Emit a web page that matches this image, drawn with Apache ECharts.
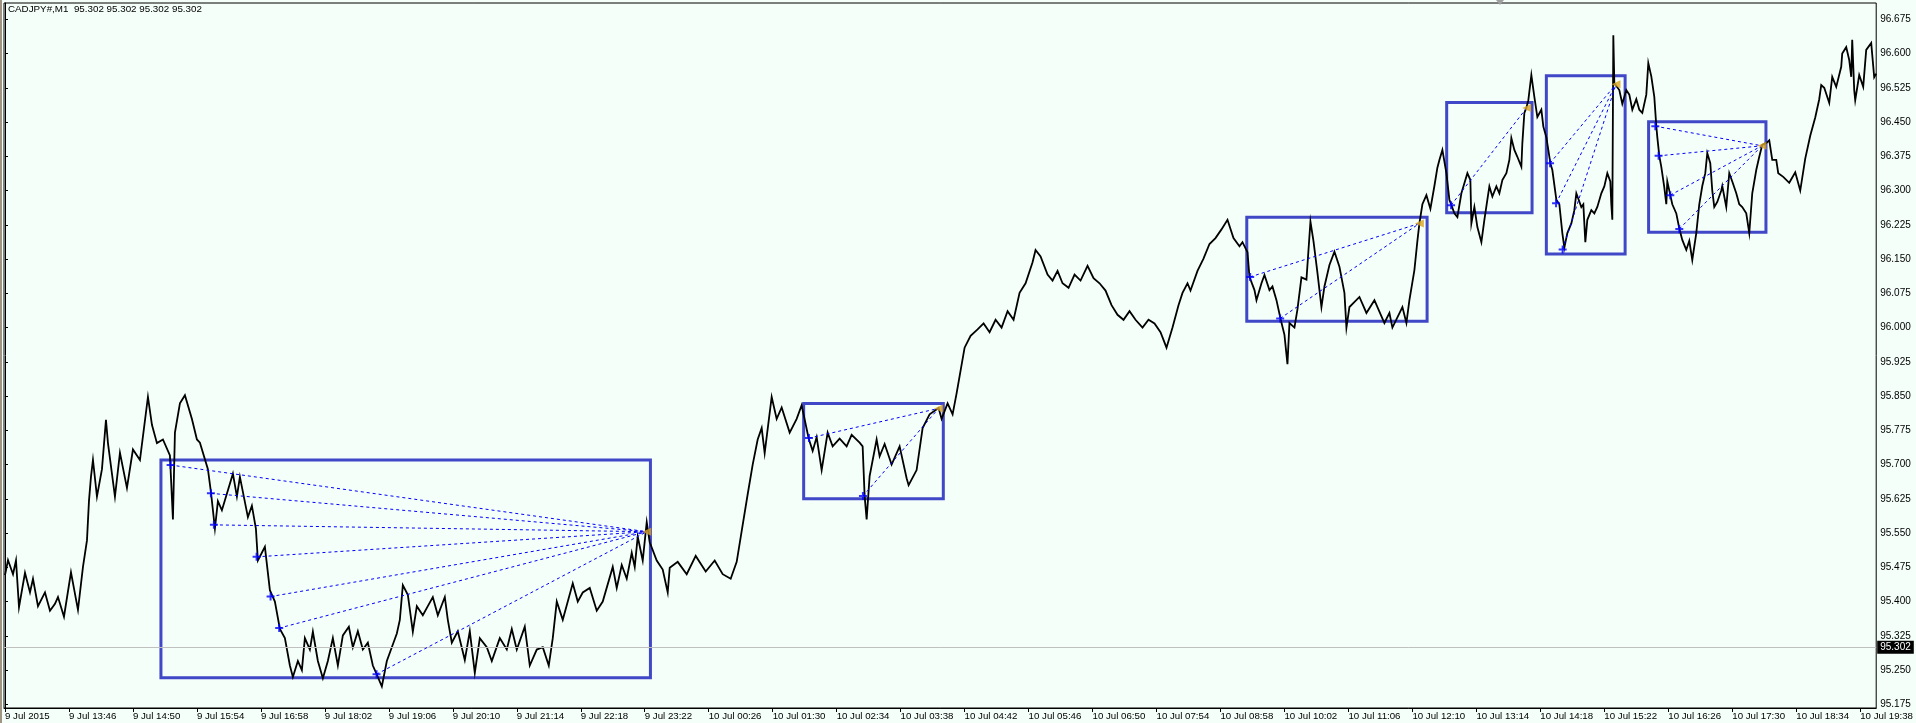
<!DOCTYPE html>
<html><head><meta charset="utf-8">
<script src="https://cdn.jsdelivr.net/npm/echarts@6/dist/echarts.min.js"></script>
<style>html,body{margin:0;padding:0;background:#F5FFFA;overflow:hidden}#c{width:1916px;height:723px}</style>
</head><body><div id="c"></div>
<script>
// ---- data (minute offset from 9 Jul 2015 12:42, price) ----
const symbolTitle = 'CADJPY#,M1  95.302 95.302 95.302 95.302';
const priceTrace = [
[0,95.458],[3,95.491],[8,95.46],[11,95.49],[14,95.388],[20,95.463],[25,95.42],[28,95.45],[33,95.39],[40,95.42],[45,95.38],[50,95.395],[53,95.41],[59,95.367],[66,95.464],[73,95.382],[78,95.476],[82,95.534],[84,95.62],[86,95.673],[88,95.71],[92,95.63],[97,95.69],[101,95.798],[103,95.747],[110,95.63],[115,95.726],[122,95.649],[128,95.733],[135,95.71],[143,95.848],[147,95.787],[152,95.747],[158,95.755],[165,95.72],[168,95.58],[170,95.77],[175,95.834],[180,95.852],[187,95.80],[192,95.755],
[195,95.748],[203,95.69],[206,95.64],[210,95.56],[213,95.62],[217,95.60],[228,95.68],[232,95.63],[235,95.673],[243,95.585],[247,95.61],[251,95.56],[253,95.49],[260,95.52],[265,95.425],[270,95.40],[275,95.34],[280,95.32],[285,95.26],[288,95.235],[293,95.27],[297,95.25],[300,95.32],[305,95.295],[308,95.334],[313,95.27],[318,95.232],[323,95.27],[328,95.32],[333,95.26],[338,95.326],[344,95.345],[348,95.30],[353,95.335],[358,95.295],[363,95.31],[368,95.26],[372,95.24],[377,95.214],[382,95.27],[387,95.30],[392,95.33],[395,95.36],[398,95.436],[403,95.415],[408,95.334],[412,95.39],[418,95.37],[423,95.39],[428,95.41],[433,95.37],[440,95.41],[443,95.36],[447,95.31],[453,95.335],[460,95.272],[465,95.335],[470,95.244],[475,95.32],[482,95.30],[487,95.27],[495,95.32],[502,95.295],[507,95.34],[512,95.295],[520,95.345],[525,95.26],[532,95.295],[538,95.30],[544,95.26],[548,95.32],[552,95.40],[558,95.36],[568,95.44],[573,95.40],[578,95.42],[585,95.43],[592,95.38],[598,95.40],[608,95.476],[612,95.43],[617,95.48],[622,95.45],[627,95.507],[630,95.476],[633,95.542],[638,95.49],[642,95.574],[645,95.53],[652,95.49],[658,95.47],[663,95.42],
[665,95.474],[673,95.487],[682,95.46],[691,95.50],[701,95.466],[710,95.49],[718,95.46],[726,95.45],[732,95.487],[738,95.568],[743,95.635],[748,95.70],[753,95.755],
[757,95.78],[760,95.725],[767,95.848],[772,95.80],[777,95.825],[785,95.77],[792,95.80],[797,95.83],[804,95.757],[808,95.73],[812,95.76],[817,95.688],[823,95.77],[828,95.74],[835,95.757],[842,95.74],[847,95.765],[855,95.748],[858,95.74],[860,95.631],[862,95.58],[865,95.675],[872,95.755],[875,95.718],[880,95.745],[887,95.70],[895,95.74],[902,95.67],[904,95.655],[912,95.688],[918,95.78],[925,95.81],[934,95.824],[937,95.80],[943,95.834],[948,95.81],[952,95.856],
[960,95.956],[966,95.982],[973,95.996],[979,96.009],[985,95.99],[991,96.017],[997,96.0],[1003,96.036],[1009,96.017],[1015,96.076],[1021,96.097],[1028,96.143],[1031,96.17],[1036,96.156],[1043,96.116],[1048,96.103],[1053,96.124],[1058,96.097],[1064,96.087],[1070,96.116],[1076,96.103],[1083,96.135],[1089,96.108],[1095,96.097],[1101,96.081],[1107,96.049],[1113,96.028],[1119,96.017],[1125,96.036],[1131,96.017],[1138,96.0],[1144,96.017],[1150,96.009],[1156,95.99],[1162,95.956],[1168,96.0],[1174,96.049],[1178,96.076],[1183,96.097],[1186,96.081],[1193,96.124],[1199,96.151],[1205,96.183],[1211,96.196],[1217,96.215],[1223,96.236],[1229,96.196],[1235,96.178],
[1238,96.187],[1243,96.165],[1245,96.111],[1250,96.082],[1252,96.06],[1257,96.097],[1260,96.115],[1265,96.082],[1268,96.09],[1272,96.06],[1276,96.02],[1280,95.984],[1283,95.92],[1285,96.01],[1290,96.0],[1293,96.04],[1297,96.11],[1302,96.105],[1306,96.232],[1309,96.19],[1313,96.12],[1317,96.045],[1320,96.09],[1325,96.137],[1330,96.166],[1335,96.133],[1340,96.076],[1342,96.0],[1345,96.045],[1355,96.067],[1362,96.032],[1370,96.06],[1380,96.01],[1385,96.032],[1388,96.0],[1398,96.045],[1402,96.01],[1405,96.06],[1410,96.126],[1413,96.19],[1415,96.228],[1418,96.27],[1422,96.29],[1426,96.26],[1430,96.31],[1433,96.35],
[1435,96.367],[1438,96.389],[1442,96.338],[1445,96.28],[1447,96.268],[1450,96.25],[1453,96.242],[1457,96.294],[1460,96.316],[1463,96.338],[1466,96.323],[1467,96.228],[1470,96.264],[1473,96.22],[1477,96.187],[1480,96.236],[1483,96.28],[1485,96.309],[1488,96.287],[1492,96.309],[1495,96.294],[1498,96.323],[1502,96.338],[1505,96.367],[1507,96.415],[1510,96.389],[1513,96.374],[1517,96.352],[1518,96.404],[1520,96.47],[1522,96.481],[1524,96.498],[1527,96.553],[1530,96.505],[1533,96.461],[1537,96.477],[1539,96.44],[1542,96.417],[1546,96.36],[1548,96.345],[1552,96.28],[1555,96.27],[1558,96.207],[1560,96.175],[1563,96.207],[1567,96.228],[1570,96.257],[1572,96.294],[1574,96.29],[1577,96.264],[1579,96.27],[1581,96.187],[1583,96.236],[1587,96.257],[1590,96.25],[1593,96.264],[1597,96.294],[1600,96.309],[1603,96.338],[1606,96.32],[1607,96.27],[1608,96.236],[1609,96.64],[1610,96.535],[1612,96.535],[1615,96.52],[1618,96.49],[1622,96.52],[1625,96.51],[1628,96.477],[1632,96.50],[1635,96.477],[1638,96.47],[1642,96.51],[1644,96.579],[1647,96.55],[1650,96.505],[1652,96.441],[1653,96.417],[1655,96.376],[1657,96.352],[1660,96.307],[1662,96.27],[1663,96.32],[1666,96.29],[1668,96.27],[1672,96.25],[1675,96.217],[1678,96.192],[1682,96.17],[1685,96.19],[1688,96.148],[1692,96.207],[1695,96.27],[1698,96.31],[1701,96.338],[1703,96.382],[1706,96.36],[1708,96.30],[1710,96.264],[1713,96.275],[1717,96.30],[1718,96.31],[1722,96.264],[1725,96.338],[1728,96.32],[1732,96.294],[1735,96.27],[1738,96.264],[1742,96.25],[1745,96.207],[1748,96.294],[1752,96.345],[1755,96.374],[1758,96.40],[1762,96.404],[1765,96.41],[1768,96.367],[1772,96.367],[1774,96.338],
[1779,96.33],[1785,96.317],[1791,96.34],[1796,96.30],[1801,96.37],[1806,96.42],[1811,96.46],[1815,96.50],[1817,96.531],[1820,96.525],[1825,96.492],[1828,96.549],[1832,96.527],[1837,96.571],[1838,96.6],[1842,96.614],[1845,96.586],[1847,96.549],[1848,96.63],[1850,96.52],[1851,96.498],[1855,96.553],[1859,96.527],[1862,96.608],[1867,96.623],[1870,96.548],[1872,96.556]
];
const timeTickMinutes = [0,64,128,192,256,320,384,448,512,576,640,704,768,832,896,960,1024,1088,1152,1216,1280,1344,1408,1472,1536,1600,1664,1728,1792,1856];
const timeTickLabels = ['9 Jul 2015','9 Jul 13:46','9 Jul 14:50','9 Jul 15:54','9 Jul 16:58','9 Jul 18:02','9 Jul 19:06','9 Jul 20:10','9 Jul 21:14','9 Jul 22:18','9 Jul 23:22','10 Jul 00:26','10 Jul 01:30','10 Jul 02:34','10 Jul 03:38','10 Jul 04:42','10 Jul 05:46','10 Jul 06:50','10 Jul 07:54','10 Jul 08:58','10 Jul 10:02','10 Jul 11:06','10 Jul 12:10','10 Jul 13:14','10 Jul 14:18','10 Jul 15:22','10 Jul 16:26','10 Jul 17:30','10 Jul 18:34','10 Jul 19:38'];
const priceTicks = [95.175,95.25,95.325,95.4,95.475,95.55,95.625,95.7,95.775,95.85,95.925,96.0,96.075,96.15,96.225,96.3,96.375,96.45,96.525,96.6,96.675];
const bidPrice = 95.302;
// boxes: [startMinute, endMinute, topPrice, bottomPrice]
const boxes = [[156,645.7,95.710,95.233],[799,938.7,95.834,95.625],[1242.3,1422.7,96.2415,96.014],[1442.3,1527.7,96.493,96.2515],[1542,1620.8,96.5515,96.161],[1644.3,1761.7,96.4508,96.2086]];
// targets (one per box): [minute, price]
const targets = [[642,95.553],[934,95.823],[1415,96.228],[1522.3,96.481],[1611.7,96.533],[1757.7,96.398]];
// markers: [boxIndex, minute, price]
const markers = [[0,165.7,95.699],[0,206,95.637],[0,209,95.568],[0,251.7,95.498],[0,265.7,95.411],[0,274.3,95.342],[0,371.7,95.241],
[1,804.3,95.758],[1,858.3,95.631],
[2,1245.7,96.111],[2,1275.7,96.020],
[3,1446.7,96.268],
[4,1545.7,96.360],[4,1551.7,96.272],[4,1558.3,96.171],
[5,1651,96.441],[5,1654.3,96.376],[5,1666,96.290],[5,1675,96.216]];

// ---- layout ----
const G = {left:4, right:39, top:3, bottom:15};
const pxPerPrice = 456.7, refPrice = 96.675, refY = 19.3;
const yMax = refPrice + (refY - G.top) / pxPerPrice;
const yMin = refPrice - ((723 - G.bottom) - refY) / pxPerPrice;
const xMin = -1, xMax = xMin + (1916 - G.left - G.right);
const FONT = 'Liberation Sans';

const chart = echarts.init(document.getElementById('c'), null, {renderer:'canvas'});
chart.setOption({
  animation:false,
  backgroundColor:'#F5FFFA',
  grid:{left:G.left, right:G.right, top:G.top, bottom:G.bottom, show:true, borderColor:'#000', borderWidth:1, backgroundColor:'transparent'},
  xAxis:{type:'value', min:xMin, max:xMax,
    axisLine:{show:true, lineStyle:{color:'#000', width:1}},
    axisTick:{show:true, length:4, customValues:timeTickMinutes, lineStyle:{color:'#000'}},
    axisLabel:{customValues:timeTickMinutes, align:'left', margin:3, color:'#000', fontFamily:FONT, fontSize:9.7,
      formatter:v=>timeTickLabels[timeTickMinutes.indexOf(Math.round(v))] || ''},
    splitLine:{show:false}},
  yAxis:{type:'value', position:'right', min:yMin, max:yMax,
    axisLine:{show:true, lineStyle:{color:'#000', width:1}},
    axisTick:{show:true, length:3, customValues:priceTicks, lineStyle:{color:'#000'}},
    axisLabel:{customValues:priceTicks, align:'left', margin:4, color:'#000', fontFamily:FONT, fontSize:10,
      formatter:v=>v.toFixed(3)},
    splitLine:{show:false}},
  graphic:[
    {type:'rect', shape:{x:0,y:0,width:2,height:723}, style:{fill:'#A09482'}, z:100},
    {type:'polygon', shape:{points:[[1496,0],[1504,0],[1500,5]]}, style:{fill:'#A0A0A0'}, z:100},
    {type:'text', left:8, top:4, style:{text:symbolTitle, font:'9.8px "Liberation Sans"', fill:'#000'}, z:100}
  ],
  series:[
    {type:'line', name:'bid', data:[], silent:true,
      markLine:{silent:true, symbol:['none','none'], animation:false,
        lineStyle:{color:'#C0C0C0', type:'solid', width:1},
        label:{show:true, position:'end', distance:1, formatter:()=>bidPrice.toFixed(3), color:'#fff', backgroundColor:'#000', padding:[2,3,1,3], fontFamily:FONT, fontSize:10},
        data:[{yAxis:bidPrice}]}},
    {type:'line', name:'price', data:priceTrace, showSymbol:false, silent:true,
      lineStyle:{color:'#000', width:1.8, join:'miter'}, z:3},
    {type:'line', name:'boxes', data:[], silent:true, z:4,
      markArea:{silent:true, itemStyle:{color:'rgba(0,0,0,0)', borderColor:'#4048C8', borderWidth:3},
        data:boxes.map(b=>[{coord:[b[0],b[2]]},{coord:[b[1],b[3]]}])},
      markLine:{silent:true, symbol:['none','none'], animation:false, label:{show:false},
        lineStyle:{color:'#0000FF', type:[3,3], width:1},
        data:markers.map(mk=>[{coord:[mk[1],mk[2]]},{coord:[targets[mk[0]][0],targets[mk[0]][1]]}])}},
    {type:'scatter', name:'markers', data:markers.map(mk=>[mk[1],mk[2]]), silent:true, z:6,
      symbol:'path://M3,0H5V3H8V5H5V8H3V5H0V3H3Z', symbolSize:8, itemStyle:{color:'#0000FF'}},
    {type:'scatter', name:'targets', data:targets, silent:true, z:6,
      symbol:'triangle', symbolRotate:90, symbolSize:[8,9], itemStyle:{color:'#DAA520'}}
  ]
});
</script></body></html>
